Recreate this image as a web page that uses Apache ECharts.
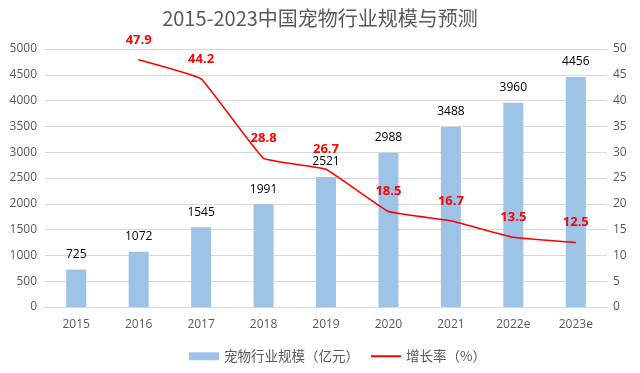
<!DOCTYPE html>
<html><head><meta charset="utf-8">
<script src="https://cdn.jsdelivr.net/npm/echarts@6/dist/echarts.min.js"></script>
<style>html,body{margin:0;padding:0;background:#fff}#c{width:640px;height:373px}</style>
</head><body><div id="c"></div>
<script>
const categories = ['2015','2016','2017','2018','2019','2020','2021','2022e','2023e'];
const marketSize = [725,1072,1545,1991,2521,2988,3488,3960,4456];
const growthRate = [null,47.9,44.2,28.8,26.7,18.5,16.7,13.5,12.5];
const titleText = '2015-2023中国宠物行业规模与预测';
const barName = '宠物行业规模（亿元）';
const lineName = '增长率（%）';

const font = '"Open Sans","Noto Sans CJK SC",sans-serif';
const chart = echarts.init(document.getElementById('c'), null, {renderer:'canvas'});
chart.setOption({
  animation:false,
  backgroundColor:'#fff',
  title:{text:titleText,left:'center',top:3,textStyle:{fontFamily:'"Noto Sans CJK SC",sans-serif',fontSize:20,fontWeight:'normal',color:'#595959'}},
  legend:{bottom:5,left:184,itemGap:12,itemWidth:30,itemHeight:8,
    textStyle:{fontFamily:'"Noto Sans CJK SC",sans-serif',fontSize:13.5,color:'#595959'},
    data:[{name:barName,icon:'rect'},
          {name:lineName,icon:'path://M0,0L0.01,0L0,0.01Z M0,3.1h30v1.8h-30z M30,8L29.99,8L30,7.99Z'}]},
  grid:{left:45,right:33,top:49,bottom:66},
  xAxis:{type:'category',data:categories,
    axisLine:{lineStyle:{color:'#D9D9D9'}},axisTick:{show:false},
    axisLabel:{color:'#595959',fontSize:12,fontFamily:font,margin:12}},
  yAxis:[
    {type:'value',min:0,max:5000,interval:500,
      axisLabel:{color:'#595959',fontSize:12,fontFamily:font,margin:8,formatter:v=>String(v)},
      splitLine:{lineStyle:{color:'#D9D9D9'}},axisLine:{show:false},axisTick:{show:false}},
    {type:'value',min:0,max:50,interval:5,
      axisLabel:{color:'#595959',fontSize:12,fontFamily:font,margin:6},
      splitLine:{show:false},axisLine:{show:false},axisTick:{show:false}}
  ],
  series:[
    {name:barName,type:'bar',data:marketSize,barWidth:20,
      itemStyle:{color:'#9DC3E6'},
      label:{show:true,position:'top',distance:9,color:'#000',fontSize:12,fontFamily:font}},
    {name:lineName,type:'line',yAxisIndex:1,data:growthRate,smooth:0.08,
      symbol:'circle',symbolSize:1,showSymbol:true,
      lineStyle:{color:'#FF0000',width:1.5},itemStyle:{color:'#FF0000'},
      label:{show:true,position:'top',distance:13,color:'#FF0000',fontSize:13,fontWeight:'bold',fontFamily:font,
        formatter:p=>p.value==null?'':p.value.toFixed(1)}}
  ]
});
</script></body></html>
